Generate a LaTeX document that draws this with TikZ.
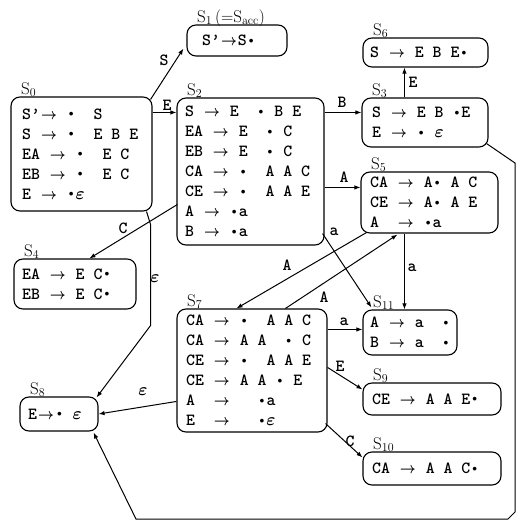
\documentclass[tikz,border=0pt]{standalone}
\usepackage{bm}
\usepackage{graphicx}
\usetikzlibrary{arrows.meta,calc}

% typewriter font used for the LR items
\newcommand\prodfont{\fontsize{17}{20}\selectfont\ttfamily\bfseries}
\newlength\charw
\setlength\charw{8.925pt}
% one-column and two-column pieces of an item
\newcommand\prodarrow{\makebox[2\charw]{\scalebox{0.8}[0.9]{$\bm{\rightarrow}$}}}
\newcommand\itemdot{\makebox[\charw]{\raisebox{2.4pt}{\scalebox{0.55}{$\bullet$}}}}
\newcommand\epsym{\makebox[\charw]{$\bm{\varepsilon}$}}
\newcommand\primesym{\textquoteright}

\tikzset{
  statebox/.style={draw, line width=1.1pt, rounded corners=9pt, inner sep=0pt},
  prods/.style={align=left, inner sep=0pt, font=\prodfont},
  slabel/.style={anchor=base west, inner sep=0pt, font=\fontsize{17}{19}\selectfont},
  elabel/.style={inner sep=0pt, font=\prodfont},
  edge/.style={line width=1pt, -{Latex[length=6pt,width=4.5pt]}},
}

% name, x1, y1, x2, y2, text x, items, label
\newcommand\mkstate[8]{%
  \node[statebox, minimum width={(#4)-(#2)}, minimum height={(#5)-(#3)}]
    (#1) at ({((#2)+(#4))/2},{((#3)+(#5))/2}) {};
  \node[prods, anchor=west] (#1t) at (#6,{((#3)+(#5))/2}) {#7};
  \node[slabel] (#1l) at ({(#2)+10},{(#3)-3}) {#8};
}

\begin{document}
\begin{tikzpicture}[x=1pt,y=-1pt]
\useasboundingbox (0,0) rectangle (521,522);

\mkstate{s0}{11}{97}{152}{211}{22}{%
  S\primesym\prodarrow~\itemdot~~S\\
  S~\prodarrow~\itemdot~~E~B~E\\
  EA~\prodarrow~\itemdot~~E~C\\
  EB~\prodarrow~\itemdot~~E~C\\
  E~\prodarrow~\itemdot\epsym}{S$_0$}

\mkstate{s1}{187}{25}{287}{56}{202}{%
  S\primesym\prodarrow S\itemdot}{S$_1$\,(=S$_{\mathrm{acc}}$)}

\mkstate{s2}{177}{98}{324}{245}{185}{%
  S~\prodarrow~E~~\itemdot~B~E\\
  EA~\prodarrow~E~~\itemdot~C\\
  EB~\prodarrow~E~~\itemdot~C\\
  CA~\prodarrow~\itemdot~~A~A~C\\
  CE~\prodarrow~\itemdot~~A~A~E\\
  A~\prodarrow~\itemdot a\\
  B~\prodarrow~\itemdot a}{S$_2$}

\mkstate{s3}{362}{98}{488}{147}{372}{%
  S~\prodarrow~E~B~\itemdot E\\
  E~\prodarrow~\itemdot~\epsym}{S$_3$}

\mkstate{s4}{14}{259}{136}{309}{22}{%
  EA~\prodarrow~E~C\itemdot\\
  EB~\prodarrow~E~C\itemdot}{S$_4$}

\mkstate{s5}{361}{172}{498}{233}{370}{%
  CA~\prodarrow~A\itemdot~A~C\\
  CE~\prodarrow~A\itemdot~A~E\\
  A~~\prodarrow~\itemdot a}{S$_5$}

\mkstate{s6}{363}{38}{488}{67}{370}{%
  S~\prodarrow~E~B~E\itemdot}{S$_6$}

\mkstate{s7}{177}{309}{327}{432}{186}{%
  CA~\prodarrow~\itemdot~~A~A~C\\
  CA~\prodarrow~A~A~~\itemdot~C\\
  CE~\prodarrow~\itemdot~~A~A~E\\
  CE~\prodarrow~A~A~\itemdot~E\\
  A~~\prodarrow~~~\itemdot a\\
  E~~\prodarrow~~~\itemdot\epsym}{S$_7$}

\mkstate{s8}{20}{397}{98}{431}{28}{%
  E\prodarrow\itemdot~\epsym}{S$_8$}

\mkstate{s9}{363}{383}{501}{415}{372}{%
  CE~\prodarrow~A~A~E\itemdot}{S$_9$}

\mkstate{s10}{363}{452}{501}{485}{372}{%
  CA~\prodarrow~A~A~C\itemdot}{S$_{10}$}

\mkstate{s11}{363}{310}{457}{355}{370}{%
  A~\prodarrow~a~~\itemdot\\
  B~\prodarrow~a~~\itemdot}{S$_{11}$}

% transitions
\draw[edge] ($(s0.north east)+(-2,3)$) -- ($(s1.south west)+(-3,-8)$);
\draw[edge] ($(s0.north east)+(0,16)$) -- ($(s2.north west)+(0,15)$);
\draw[edge] ($(s2.north east)+(0,15)$) -- ($(s3.north west)+(0,15)$);
\draw[edge] ($(s3.north west)+(43,0)$) -- ($(s6.south west)+(42,0)$);
\draw[edge] ($(s2.north east)+(0,90)$) -- ($(s5.north west)+(0,16)$);
\draw[edge] ($(s2.north west)+(1,107)$) -- ($(s4.north west)+(76,0)$);
\draw[edge] ($(s0.south east)+(-6,0)$) -- ++(4,13) -- ++(0,101)
  -- ($(s8.north east)+(-2,1)$);
\draw[edge] ($(s2.south east)+(-2,-12)$) -- ($(s11.north west)+(9,-2)$);
\draw[edge] ($(s5.south west)+(44,0)$) -- ($(s11.north west)+(42,0)$);
\draw[edge] ($(s5.south west)+(6,-1)$) -- ($(s7.north west)+(60,0)$);
\draw[edge] ($(s7.north west)+(109,0)$) -- ($(s5.south west)+(37,1)$);
\draw[edge] ($(s7.north east)+(0,21)$) -- ($(s11.north west)+(0,20)$);
\draw[edge] ($(s7.north east)+(0,59)$) -- ($(s9.north west)+(0,7)$);
\draw[edge] ($(s7.south east)+(-2,-9)$) -- ($(s10.north west)+(0,6)$);
\draw[edge] ($(s7.north west)+(0,93)$) -- (s8.east);
\coordinate (r1) at (515,163);
\coordinate (r2) at (515,512);
\coordinate (r3) at (508,519);
\coordinate (r4) at (136,519);
\draw[edge] ($(s3.south east)+(-2,-4)$) -- (r1) -- (r2) -- (r3) -- (r4)
  -- ($(s8.south east)+(-5,1)$);

% transition symbols
\node[elabel] (tS) at (164,60) {S};
\node[elabel] (tE1) at (167,105) {E};
\node[elabel] (tB) at (342,102) {B};
\node[elabel] (tE2) at (413,82) {E};
\node[elabel] (tA1) at (344,177) {A};
\node[elabel] (tC1) at (123,228) {C};
\node[elabel] (te1) at (155,279) {$\bm{\varepsilon}$};
\node[elabel] (ta1) at (334,232) {a};
\node[elabel] (ta2) at (412,268) {a};
\node[elabel] (tA2) at (287,265) {A};
\node[elabel] (tA3) at (324,297) {A};
\node[elabel] (ta3) at (344,322) {a};
\node[elabel] (tE3) at (340,366) {E};
\node[elabel] (tC2) at (350,441) {C};
\node[elabel] (te2) at (143,392) {$\bm{\varepsilon}$};
\end{tikzpicture}
\end{document}
